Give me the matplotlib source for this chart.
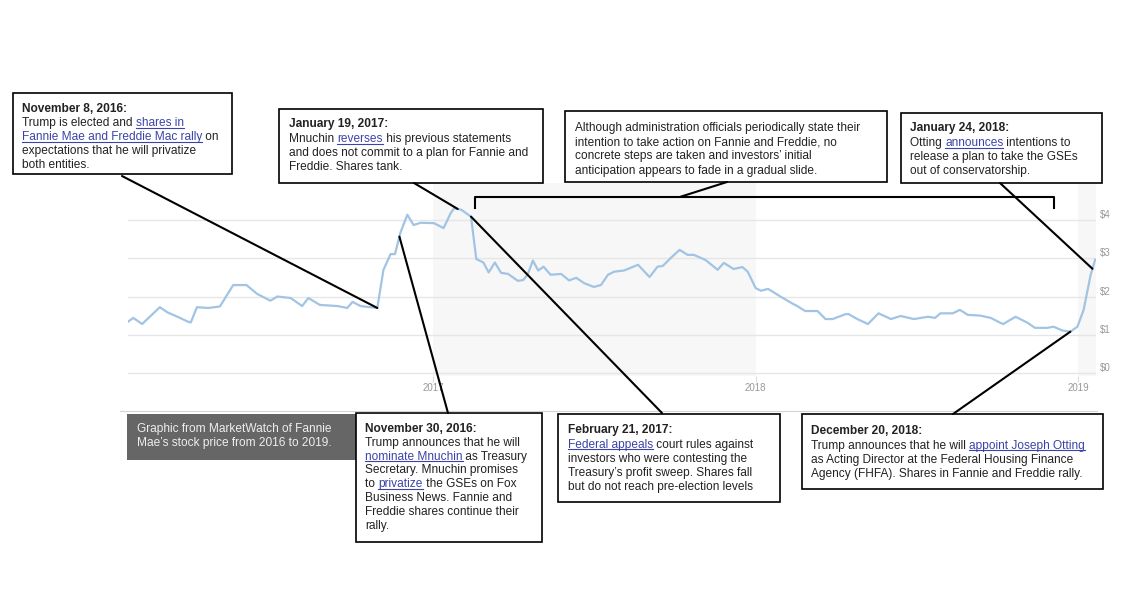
import matplotlib
matplotlib.use("Agg")
import matplotlib.pyplot as plt
import matplotlib.dates as mdates
from matplotlib.patches import Rectangle, ConnectionPatch
import numpy as np
import pandas as pd

# Fannie Mae share price
dates = ["2016-01-22", "2016-01-28", "2016-02-07", "2016-02-27", "2016-03-07", "2016-03-18",
         "2016-03-30", "2016-04-02", "2016-04-09", "2016-04-22", "2016-05-05", "2016-05-20",
         "2016-06-04", "2016-06-16", "2016-07-01", "2016-07-09", "2016-07-24", "2016-08-06",
         "2016-08-13", "2016-08-26", "2016-09-15", "2016-09-26", "2016-10-02", "2016-10-11",
         "2016-10-30", "2016-11-06", "2016-11-14", "2016-11-19", "2016-11-25", "2016-12-03",
         "2016-12-10", "2016-12-18", "2017-01-02", "2017-01-13", "2017-01-21", "2017-01-25",
         "2017-02-02", "2017-02-13", "2017-02-19", "2017-02-27", "2017-03-05", "2017-03-12",
         "2017-03-19", "2017-03-27", "2017-04-07", "2017-04-13", "2017-04-18", "2017-04-24",
         "2017-04-30", "2017-05-06", "2017-05-14", "2017-05-26", "2017-06-04", "2017-06-12",
         "2017-06-21", "2017-07-02", "2017-07-10", "2017-07-18", "2017-07-25", "2017-08-05",
         "2017-08-21", "2017-08-27", "2017-09-03", "2017-09-12", "2017-09-18", "2017-09-27",
         "2017-10-07", "2017-10-16", "2017-10-23", "2017-11-05", "2017-11-19", "2017-11-26",
         "2017-12-07", "2017-12-17", "2017-12-23", "2018-01-01", "2018-01-07", "2018-01-15",
         "2018-01-29", "2018-02-12", "2018-02-17", "2018-02-26", "2018-03-12", "2018-03-21",
         "2018-03-29", "2018-04-13", "2018-04-16", "2018-04-26", "2018-05-08", "2018-05-20",
         "2018-06-03", "2018-06-14", "2018-06-29", "2018-07-15", "2018-07-23", "2018-07-29",
         "2018-08-12", "2018-08-20", "2018-08-29", "2018-09-12", "2018-09-24", "2018-10-05",
         "2018-10-08", "2018-10-22", "2018-11-04", "2018-11-13", "2018-11-27", "2018-12-04",
         "2018-12-14", "2018-12-23", "2018-12-31", "2019-01-07", "2019-01-15", "2019-01-20"]
prices = [1.34, 1.44, 1.28, 1.72, 1.58, 1.47, 1.34, 1.32, 1.72, 1.70, 1.74, 2.30,
          2.30, 2.07, 1.89, 2.00, 1.96, 1.75, 1.96, 1.78, 1.75, 1.70, 1.86, 1.75,
          1.70, 2.70, 3.11, 3.11, 3.66, 4.14, 3.87, 3.93, 3.92, 3.79, 4.18, 4.31,
          4.27, 4.09, 2.98, 2.89, 2.63, 2.89, 2.62, 2.59, 2.41, 2.43, 2.57, 2.94,
          2.68, 2.78, 2.57, 2.59, 2.42, 2.49, 2.35, 2.25, 2.30, 2.57, 2.65, 2.68,
          2.83, 2.68, 2.51, 2.78, 2.80, 3.01, 3.22, 3.09, 3.09, 2.96, 2.70, 2.88,
          2.72, 2.77, 2.65, 2.22, 2.15, 2.20, 2.00, 1.81, 1.75, 1.62, 1.62, 1.41,
          1.41, 1.54, 1.54, 1.41, 1.28, 1.56, 1.41, 1.49, 1.41, 1.47, 1.44, 1.56,
          1.56, 1.65, 1.52, 1.50, 1.44, 1.31, 1.28, 1.47, 1.32, 1.18, 1.18, 1.21,
          1.11, 1.08, 1.21, 1.65, 2.57, 2.96]

year_ticks = ["2017-01-01", "2018-01-01", "2019-01-01"]
year_labels = ["2017", "2018", "2019"]
price_ticks = [0, 1, 2, 3, 4]
price_labels = ["$0", "$1", "$2", "$3", "$4"]
shaded_spans = [("2017-01-01", "2018-01-01"), ("2019-01-01", "2019-01-21")]
x_start, x_end = "2016-01-22", "2019-01-21"

# where each annotation line touches the price line
event_dates = {
    "nov8": "2016-10-30",
    "jan19": "2017-01-29",
    "nov30": "2016-11-24",
    "feb21": "2017-02-13",
    "dec20": "2018-12-23",
    "jan24": "2019-01-17",
}
bracket_start, bracket_mid, bracket_end = "2017-02-18", "2017-10-08", "2018-12-05"

FONT = "Liberation Sans"
FS = 8.6
TXT = "#222222"
LINK = "#3a44a8"

d = mdates.date2num(pd.to_datetime(dates))
dnum = lambda s: mdates.date2num(pd.Timestamp(s))

fig = plt.figure(figsize=(11.28, 5.94), dpi=100)
W, H = 1128, 594

# ---- the price chart ----
ax = fig.add_axes([128 / W, 1 - 376 / H, (1096 - 128) / W, (376 - 183) / H])
for s, e in shaded_spans:
    ax.axvspan(dnum(s), dnum(e), color="#f7f7f7", lw=0, zorder=0)
ax.plot(d, prices, color="#a2c4e4", lw=1.6, solid_joinstyle="round", zorder=3)
ax.set_xlim(dnum(x_start), dnum(x_end))
ax.set_ylim(-0.08, 4.97)
ax.set_axisbelow(True)
ax.grid(axis="y", color="#e6e6e6", lw=1.0)
for sp in ax.spines.values():
    sp.set_visible(False)
ax.yaxis.tick_right()
ax.set_yticks(price_ticks)
ax.set_yticklabels(price_labels)
ax.tick_params(axis="y", length=0, pad=3, labelsize=7, labelcolor="#999999")
for lab in ax.get_yticklabels():
    lab.set_va("bottom")
    lab.set_family(FONT)
ax.set_xticks([dnum(t) for t in year_ticks])
ax.set_xticklabels(year_labels)
ax.tick_params(axis="x", length=4, color="#dddddd", pad=1, labelsize=7, labelcolor="#999999")
for lab in ax.get_xticklabels():
    lab.set_family(FONT)

# bracket over the slow slide
ax.plot([dnum(bracket_start)] * 2 + [dnum(bracket_end)] * 2, [4.32, 4.61, 4.61, 4.32],
        color="black", lw=1.5, clip_on=False, zorder=6)

# ---- overlay in pixel coordinates for the text boxes ----
ov = fig.add_axes([0, 0, 1, 1], zorder=5)
ov.set_xlim(0, W)
ov.set_ylim(H, 0)
ov.axis("off")
renderer = fig.canvas.get_renderer()

ov.plot([120, 1097], [411, 411], color="#d4d4d4", lw=0.8)


def rich_line(x, y, parts, bold=False, color=TXT):
    if isinstance(parts, str):
        parts = [(parts, False)]
    for s, link in parts:
        t = ov.text(x, y, s, fontsize=FS, family=FONT, color=LINK if link else color,
                    fontweight="bold" if bold else "normal", ha="left", va="baseline")
        w = t.get_window_extent(renderer).width
        if link:
            ov.plot([x, x + w], [y + 1.8, y + 1.8], color=LINK, lw=0.8)
        x += w


def box(x0, y0, x1, y1, tx, ty, step, lines, face="white", edge="black", color=TXT):
    ov.add_patch(Rectangle((x0, y0), x1 - x0, y1 - y0, facecolor=face, edgecolor=edge,
                           lw=1.2 if edge != "none" else 0, zorder=1))
    for i, ln in enumerate(lines):
        bold = False
        if isinstance(ln, tuple) and ln[0] == "B":
            bold, ln = True, ln[1]
        rich_line(tx, ty + i * step, ln, bold=bold, color=color)


box(13, 93, 232, 174, 22, 112, 14.1, [
    ("B", "November 8, 2016:"),
    [("Trump is elected and ", False), ("shares in", True)],
    [("Fannie Mae and Freddie Mac rally", True), (" on", False)],
    "expectations that he will privatize",
    "both entities.",
])
box(279, 109, 543, 183, 289, 127.5, 14.2, [
    ("B", "January 19, 2017:"),
    [("Mnuchin ", False), ("reverses", True), (" his previous statements", False)],
    "and does not commit to a plan for Fannie and",
    "Freddie. Shares tank.",
])
box(565, 111, 887, 182, 575, 131, 14.2, [
    "Although administration officials periodically state their",
    "intention to take action on Fannie and Freddie, no",
    "concrete steps are taken and investors\u2019 initial",
    "anticipation appears to fade in a gradual slide.",
])
box(901, 113, 1102, 183, 910, 131.5, 14.2, [
    ("B", "January 24, 2018:"),
    [("Otting ", False), ("announces", True), (" intentions to", False)],
    "release a plan to take the GSEs",
    "out of conservatorship.",
])
box(127, 414, 356, 460, 137, 432, 13.8, [
    "Graphic from MarketWatch of Fannie",
    "Mae\u2019s stock price from 2016 to 2019.",
], face="#666666", edge="none", color="#eeeeee")
box(356, 413, 542, 542, 365, 432, 13.8, [
    ("B", "November 30, 2016:"),
    "Trump announces that he will",
    [("nominate Mnuchin", True), (" as Treasury", False)],
    "Secretary. Mnuchin promises",
    [("to ", False), ("privatize", True), (" the GSEs on Fox", False)],
    "Business News. Fannie and",
    "Freddie shares continue their",
    "rally.",
])
box(558, 414, 780, 502, 568, 433.5, 14.1, [
    ("B", "February 21, 2017:"),
    [("Federal appeals", True), (" court rules against", False)],
    "investors who were contesting the",
    "Treasury\u2019s profit sweep. Shares fall",
    "but do not reach pre-election levels",
])
box(802, 414, 1103, 489, 811, 434.5, 14.1, [
    ("B", "December 20, 2018:"),
    [("Trump announces that he will ", False), ("appoint Joseph Otting", True)],
    "as Acting Director at the Federal Housing Finance",
    "Agency (FHFA). Shares in Fannie and Freddie rally.",
])

# ---- connector lines from boxes to the price line ----
def price_at(s):
    return float(np.interp(dnum(s), d, prices))


connectors = [
    ((122, 176), "nov8"),
    ((414, 183), "jan19"),
    ((448, 413), "nov30"),
    ((662, 413), "feb21"),
    ((953, 414), "dec20"),
    ((1000, 183), "jan24"),
]
for xy, key in connectors:
    dt = event_dates[key]
    con = ConnectionPatch(xyA=xy, coordsA=ov.transData, xyB=(dnum(dt), price_at(dt)),
                          coordsB=ax.transData, color="black", lw=1.5, zorder=10)
    fig.add_artist(con)

con = ConnectionPatch(xyA=(727, 182), coordsA=ov.transData, xyB=(dnum(bracket_mid), 4.61),
                      coordsB=ax.transData, color="black", lw=1.5, zorder=10)
fig.add_artist(con)

fig.savefig("out.png", dpi=100, facecolor="white")
